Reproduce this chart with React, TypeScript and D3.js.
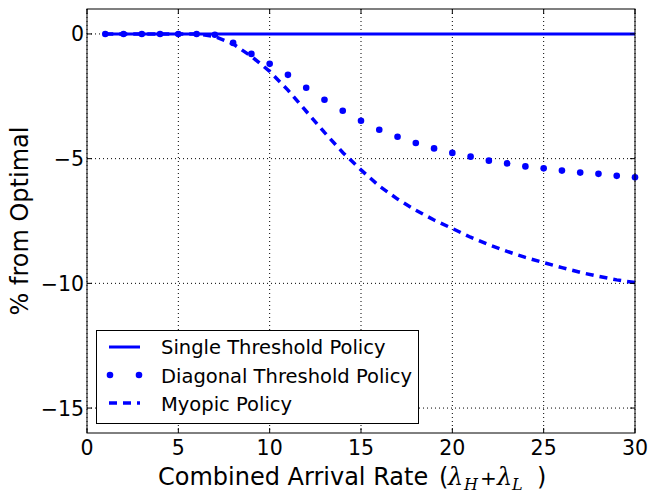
import React from "react";
import * as d3 from "d3";

const arrivalRates = [1, 2, 3, 4, 5, 6, 7, 8, 9, 10, 11, 12, 13, 14, 15, 16, 17, 18, 19, 20, 21, 22, 23, 24, 25, 26, 27, 28, 29, 30];
const singleThreshold = [0, 0, 0, 0, 0, 0, 0, 0, 0, 0, 0, 0, 0, 0, 0, 0, 0, 0, 0, 0, 0, 0, 0, 0, 0, 0, 0, 0, 0, 0];
const diagonalThreshold = [0, 0, 0, 0, 0, 0, -0.03, -0.36, -0.8, -1.2, -1.64, -2.16, -2.64, -3.08, -3.48, -3.84, -4.12, -4.37, -4.59, -4.77, -4.92, -5.08, -5.19, -5.31, -5.39, -5.48, -5.56, -5.61, -5.69, -5.75];
const myopic = [0, 0, 0, 0, 0, 0, -0.1, -0.4, -0.9, -1.5, -2.25, -3.1, -3.95, -4.75, -5.45, -6.1, -6.62, -7.07, -7.46, -7.8, -8.15, -8.45, -8.72, -8.96, -9.17, -9.37, -9.56, -9.72, -9.86, -9.97];

const xTicks = [0, 5, 10, 15, 20, 25, 30];
const yTicks = [0, -5, -10, -15];
const legendLabels = ["Single Threshold Policy", "Diagonal Threshold Policy", "Myopic Policy"];

const W = 652;
const H = 494;
const BLUE = "#0000ff";
const FONT = "DejaVu Sans, sans-serif";
const SERIF = "DejaVu Serif, serif";

export default function App() {
  const x = d3.scaleLinear().domain([0, 30]).range([87, 635]);
  const y = d3.scaleLinear().domain([1, -16]).range([9, 433]);
  const [x0, x1] = x.range();
  const [y0, y1] = y.range();

  const mkLine = (vals: number[]) =>
    d3
      .line<number>()
      .x((_, i) => x(arrivalRates[i]))
      .y((v) => y(v))(vals) as string;

  const fmt = (v: number) => (v < 0 ? "\u2212" + Math.abs(v) : String(v));
  const tick = 5;

  return (
    <svg
      width={W}
      height={H}
      style={{ position: "absolute", left: 0, top: 0, background: "#fff" }}
      fontFamily={FONT}
    >
      <rect x={0} y={0} width={W} height={H} fill="#fff" />
      {/* grid */}
      {xTicks.map((t) => (
        <line key={"gx" + t} x1={x(t)} x2={x(t)} y1={y0} y2={y1} stroke="#000" strokeWidth={1} strokeDasharray="1,3" />
      ))}
      {yTicks.map((t) => (
        <line key={"gy" + t} x1={x0} x2={x1} y1={y(t)} y2={y(t)} stroke="#000" strokeWidth={1} strokeDasharray="1,3" />
      ))}

      {/* series */}
      <path d={mkLine(singleThreshold)} fill="none" stroke={BLUE} strokeWidth={3} />
      <path d={mkLine(myopic)} fill="none" stroke={BLUE} strokeWidth={3.5} strokeDasharray="8,6" />
      {diagonalThreshold.map((v, i) => (
        <circle key={"d" + i} cx={x(arrivalRates[i])} cy={y(v)} r={3.3} fill={BLUE} />
      ))}

      {/* ticks, inside on all sides */}
      {xTicks.map((t) => (
        <g key={"tx" + t}>
          <line x1={x(t)} x2={x(t)} y1={y1} y2={y1 - tick} stroke="#000" />
          <line x1={x(t)} x2={x(t)} y1={y0} y2={y0 + tick} stroke="#000" />
          <text x={x(t)} y={455} fontSize={20.5} textAnchor="middle">
            {fmt(t)}
          </text>
        </g>
      ))}
      {yTicks.map((t) => (
        <g key={"ty" + t}>
          <line x1={x0} x2={x0 + tick} y1={y(t)} y2={y(t)} stroke="#000" />
          <line x1={x1} x2={x1 - tick} y1={y(t)} y2={y(t)} stroke="#000" />
          <text x={84} y={y(t) + 7.5} fontSize={20.5} textAnchor="end">
            {fmt(t)}
          </text>
        </g>
      ))}

      {/* frame */}
      <rect x={x0} y={y0} width={x1 - x0} height={y1 - y0} fill="none" stroke="#000" strokeWidth={1} />

      {/* axis labels */}
      <text x={158} y={485} fontSize={24}>
        Combined Arrival Rate
        <tspan x={439}>(</tspan>
        <tspan x={448} fontFamily={SERIF} fontStyle="italic">λ</tspan>
        <tspan x={464} fontFamily={SERIF} fontStyle="italic" fontSize={16} dy={5}>H</tspan>
        <tspan x={480} dy={-5} fontSize={20}>+</tspan>
        <tspan x={497} fontFamily={SERIF} fontStyle="italic">λ</tspan>
        <tspan x={512} fontFamily={SERIF} fontStyle="italic" fontSize={16} dy={5}>L</tspan>
        <tspan x={537} dy={-5}>)</tspan>
      </text>
      <text transform={`translate(28,${(y0 + y1) / 2}) rotate(-90)`} fontSize={24} textAnchor="middle">
        % from Optimal
      </text>

      {/* legend */}
      <rect x={96.5} y={330.5} width={322} height={93} fill="#fff" stroke="#000" strokeWidth={1} />
      <line x1={109} x2={140} y1={347} y2={347} stroke={BLUE} strokeWidth={3} />
      <circle cx={110} cy={375} r={3.3} fill={BLUE} />
      <circle cx={139} cy={375} r={3.3} fill={BLUE} />
      <line x1={109} x2={140} y1={403} y2={403} stroke={BLUE} strokeWidth={3.5} strokeDasharray="8,6" />
      {legendLabels.map((l, i) => (
        <text key={l} x={161} y={354 + i * 28.5} fontSize={19.5}>
          {l}
        </text>
      ))}
    </svg>
  );
}
